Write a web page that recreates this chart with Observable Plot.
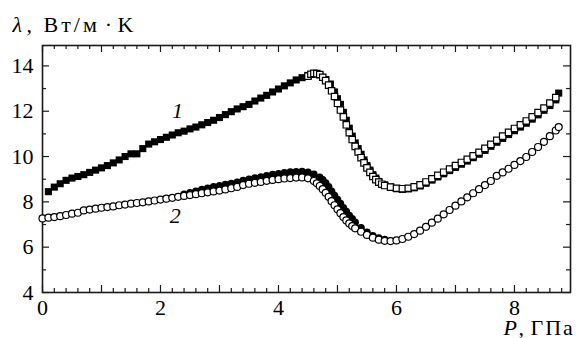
<!DOCTYPE html>
<html><head><meta charset="utf-8">
<script src="https://cdn.jsdelivr.net/npm/d3@7"></script>
<script src="https://cdn.jsdelivr.net/npm/@observablehq/plot@0.6"></script>
<style>html,body{margin:0;padding:0;background:#fff}</style>
</head><body><div id="chart"></div>
<script>
// Series 1, filled squares
const s1FilledP = [0.1,0.2,0.3,0.4,0.5,0.6,0.7,0.8,0.9,1.0,1.1,1.2,1.3,1.4,1.5,1.6,1.7,1.8,1.9,2.0,2.1,2.2,2.3,2.4,2.5,2.6,2.7,2.8,2.9,3.0,3.1,3.2,3.3,3.4,3.5,3.6,3.7,3.8,3.9,4.0,4.1,4.2,4.3,4.4,4.5,4.6,4.7,4.8,4.88,4.95,5.0,5.05,5.1,5.15,5.2,5.25,5.3,5.35,5.4,5.45,5.5,5.55,5.6,5.65,5.7,5.8,5.9,6.0,6.1,6.2,6.3,6.4,6.5,6.6,6.7,6.8,6.9,7.0,7.1,7.2,7.3,7.4,7.5,7.6,7.7,7.8,7.9,8.0,8.1,8.2,8.3,8.4,8.5,8.6,8.7,8.75];
const s1FilledL = [8.45,8.65,8.8,8.95,9.05,9.12,9.2,9.3,9.4,9.5,9.6,9.72,9.85,10.0,10.12,10.12,10.35,10.55,10.65,10.75,10.85,10.95,11.05,11.12,11.22,11.3,11.4,11.5,11.6,11.72,11.85,11.98,12.1,12.2,12.3,12.45,12.58,12.7,12.85,12.98,13.12,13.25,13.38,13.48,13.58,13.65,13.6,13.4,13.2,12.85,12.55,12.3,11.95,11.6,11.25,10.9,10.6,10.35,10.1,9.85,9.6,9.4,9.2,9.05,8.9,8.75,8.65,8.58,8.55,8.57,8.62,8.7,8.82,8.96,9.1,9.24,9.38,9.52,9.66,9.8,9.95,10.1,10.27,10.45,10.63,10.8,10.97,11.14,11.3,11.47,11.65,11.84,12.04,12.25,12.5,12.8];
// Series 1, open squares
const s1OpenP = [4.5,4.55,4.6,4.65,4.7,4.75,4.8,4.85,4.9,4.95,5.0,5.05,5.1,5.15,5.2,5.25,5.3,5.35,5.4,5.45,5.5,5.55,5.6,5.65,5.7,5.75,5.8,5.9,6.0,6.1,6.2,6.3,6.4,6.5,6.6,6.7,6.8,6.9,7.0,7.1,7.2,7.3,7.4,7.5,7.6,7.7,7.8,7.9,8.0,8.1,8.2,8.3,8.4,8.5,8.6,8.7];
const s1OpenL = [13.55,13.63,13.67,13.66,13.62,13.5,13.35,13.15,12.9,12.65,12.35,12.05,11.75,11.4,11.05,10.75,10.45,10.2,9.95,9.72,9.5,9.3,9.12,8.98,8.87,8.78,8.72,8.65,8.6,8.58,8.6,8.66,8.75,8.88,9.02,9.17,9.31,9.45,9.6,9.74,9.88,10.03,10.19,10.36,10.54,10.72,10.9,11.07,11.24,11.4,11.57,11.75,11.94,12.14,12.36,12.6];
// Series 2, filled circles
const s2FilledP = [2.4,2.5,2.6,2.7,2.8,2.9,3.0,3.1,3.2,3.3,3.4,3.5,3.6,3.7,3.8,3.9,4.0,4.1,4.2,4.3,4.4,4.5,4.6,4.7,4.75,4.8,4.85,4.9,4.95,5.0,5.05,5.1,5.15,5.2,5.25,5.3,5.4,5.5,5.6,5.7,5.8];
const s2FilledL = [8.33,8.4,8.47,8.54,8.6,8.66,8.71,8.76,8.81,8.86,8.94,9.0,9.05,9.1,9.15,9.2,9.24,9.28,9.31,9.33,9.34,9.3,9.22,9.08,8.97,8.83,8.66,8.47,8.28,8.1,7.92,7.74,7.57,7.4,7.25,7.1,6.86,6.66,6.5,6.4,6.34];
// Series 2, open circles
const s2OpenP = [0.0,0.1,0.2,0.3,0.4,0.5,0.6,0.7,0.8,0.9,1.0,1.1,1.2,1.3,1.4,1.5,1.6,1.7,1.8,1.9,2.0,2.1,2.2,2.3,2.4,2.5,2.6,2.7,2.8,2.9,3.0,3.1,3.2,3.3,3.4,3.5,3.6,3.7,3.8,3.9,4.0,4.1,4.2,4.3,4.4,4.5,4.6,4.65,4.7,4.75,4.8,4.85,4.9,4.95,5.0,5.05,5.1,5.15,5.2,5.25,5.3,5.4,5.5,5.6,5.7,5.8,5.9,6.0,6.1,6.2,6.3,6.4,6.5,6.6,6.7,6.8,6.9,7.0,7.1,7.2,7.3,7.4,7.5,7.6,7.7,7.8,7.9,8.0,8.1,8.2,8.3,8.4,8.5,8.6,8.7,8.75];
const s2OpenL = [7.27,7.3,7.33,7.37,7.42,7.48,7.52,7.62,7.66,7.7,7.74,7.77,7.8,7.85,7.88,7.92,7.95,7.98,8.02,8.06,8.1,8.14,8.18,8.22,8.26,8.3,8.34,8.38,8.42,8.46,8.5,8.55,8.6,8.66,8.74,8.8,8.84,8.88,8.93,8.97,9.0,9.03,9.05,9.07,9.08,9.04,8.92,8.82,8.7,8.56,8.4,8.22,8.03,7.85,7.67,7.5,7.33,7.18,7.05,6.93,6.83,6.68,6.54,6.42,6.33,6.28,6.27,6.3,6.36,6.46,6.58,6.73,6.9,7.08,7.26,7.45,7.64,7.83,8.02,8.2,8.38,8.56,8.74,8.92,9.15,9.3,9.46,9.63,9.8,9.98,10.2,10.42,10.65,10.9,11.15,11.3];

// Curve labels
const curveNames = ["1", "2"];
const curveNameP = [2.29, 2.25];
const curveNameL = [11.99, 7.4];

// Tick labels
const xTickLabels = [0, 2, 4, 6, 8];
const yTickLabels = [4, 6, 8, 10, 12, 14];

const zip = (P, L) => P.map((p, i) => ({p, l: L[i]}));
const s1F = zip(s1FilledP, s1FilledL);
const s1O = zip(s1OpenP, s1OpenL);
const s2F = zip(s2FilledP, s2FilledL);
const s2O = zip(s2OpenP, s2OpenL);
const names = curveNames.map((t, i) => ({t, p: curveNameP[i], l: curveNameL[i]}));

const W = 580, H = 338, mL = 42, mR = 10, mT = 45, mB = 46;
const iW = W - mL - mR, iH = H - mT - mB;
const xMaj = d3.range(0, 9);
const xMin = d3.range(0, 45).map(i => i / 5).filter(v => Math.abs(v - Math.round(v)) > 1e-9);
const yMaj = d3.range(4, 15, 2);
const yMin = d3.range(5, 15, 2);
const ink = "#1a1a1a";
const FS = 22;
const font = "Liberation Serif";
const T = {fontSize: FS, fontFamily: font, fill: "#000"};

const chart = Plot.plot({
  width: W, height: H,
  marginLeft: mL, marginRight: mR, marginTop: mT, marginBottom: mB,
  x: {domain: [0, 8.95]},
  y: {domain: [4, 14.9]},
  style: {background: "#fff", color: "#000", overflow: "visible", fontFamily: font},
  marks: [
    // inward ticks
    Plot.tickX(xMaj, {x: d => d, insetTop: iH - 7, stroke: ink, strokeWidth: 1.2}),
    Plot.tickX(xMin, {x: d => d, insetTop: iH - 4, stroke: ink, strokeWidth: 1.2}),
    Plot.tickX(xMaj, {x: d => d, insetBottom: iH - 7, stroke: ink, strokeWidth: 1.2}),
    Plot.tickX(xMin, {x: d => d, insetBottom: iH - 4, stroke: ink, strokeWidth: 1.2}),
    Plot.tickY(yMaj, {y: d => d, insetRight: iW - 7, stroke: ink, strokeWidth: 1.2}),
    Plot.tickY(yMin, {y: d => d, insetRight: iW - 4, stroke: ink, strokeWidth: 1.2}),
    Plot.tickY(yMaj, {y: d => d, insetLeft: iW - 7, stroke: ink, strokeWidth: 1.2}),
    Plot.tickY(yMin, {y: d => d, insetLeft: iW - 4, stroke: ink, strokeWidth: 1.2}),
    Plot.frame({stroke: ink, strokeWidth: 1.6}),
    Plot.axisX(xTickLabels, {tickSize: 0, tickPadding: 7, label: null, ...T}),
    Plot.axisY(yTickLabels, {tickSize: 0, tickPadding: 9, label: null, ...T}),
    // data
    Plot.dot(s1F, {x: "p", y: "l", symbol: "square", r: 4, fill: "#000", stroke: "none"}),
    Plot.dot(s1O, {x: "p", y: "l", symbol: "square", r: 3.6, fill: "#fff", stroke: "#000", strokeWidth: 1.2}),
    Plot.dot(s2F, {x: "p", y: "l", symbol: "circle", r: 3.8, fill: "#000", stroke: "none"}),
    Plot.dot(s2O, {x: "p", y: "l", symbol: "circle", r: 3.5, fill: "#fff", stroke: "#000", strokeWidth: 1.2}),
    // curve labels
    Plot.text(names, {x: "p", y: "l", text: "t", fontStyle: "italic", ...T}),
    // axis titles
    Plot.text(["λ"], {frameAnchor: "top-left", dx: -30, dy: -21, textAnchor: "start", lineAnchor: "middle", fontStyle: "italic", ...T}),
    Plot.text([","], {frameAnchor: "top-left", dx: -16, dy: -21, textAnchor: "start", lineAnchor: "middle", ...T}),
    Plot.text(["Вт/м"], {frameAnchor: "top-left", dx: 1, dy: -21, textAnchor: "start", lineAnchor: "middle", ...T}),
    Plot.text(["·"], {frameAnchor: "top-left", dx: 66, dy: -21, textAnchor: "middle", lineAnchor: "middle", ...T}),
    Plot.text(["K"], {frameAnchor: "top-left", dx: 75, dy: -21, textAnchor: "start", lineAnchor: "middle", ...T}),
    Plot.text(["P"], {frameAnchor: "bottom-right", dx: -67, dy: 35, textAnchor: "start", lineAnchor: "middle", fontStyle: "italic", ...T}),
    Plot.text([","], {frameAnchor: "bottom-right", dx: -52, dy: 35, textAnchor: "start", lineAnchor: "middle", ...T}),
    Plot.text(["ГПа"], {frameAnchor: "bottom-right", dx: -40, dy: 35, textAnchor: "start", lineAnchor: "middle", ...T})
  ]
});
const sel = d3.select(chart).selectAll("text");
sel.filter(function() { return this.textContent === "Вт/м"; }).style("letter-spacing", "3px");
sel.filter(function() { return this.textContent === "ГПа"; }).style("letter-spacing", "2px");
document.getElementById("chart").appendChild(chart);
</script>
</body></html>
